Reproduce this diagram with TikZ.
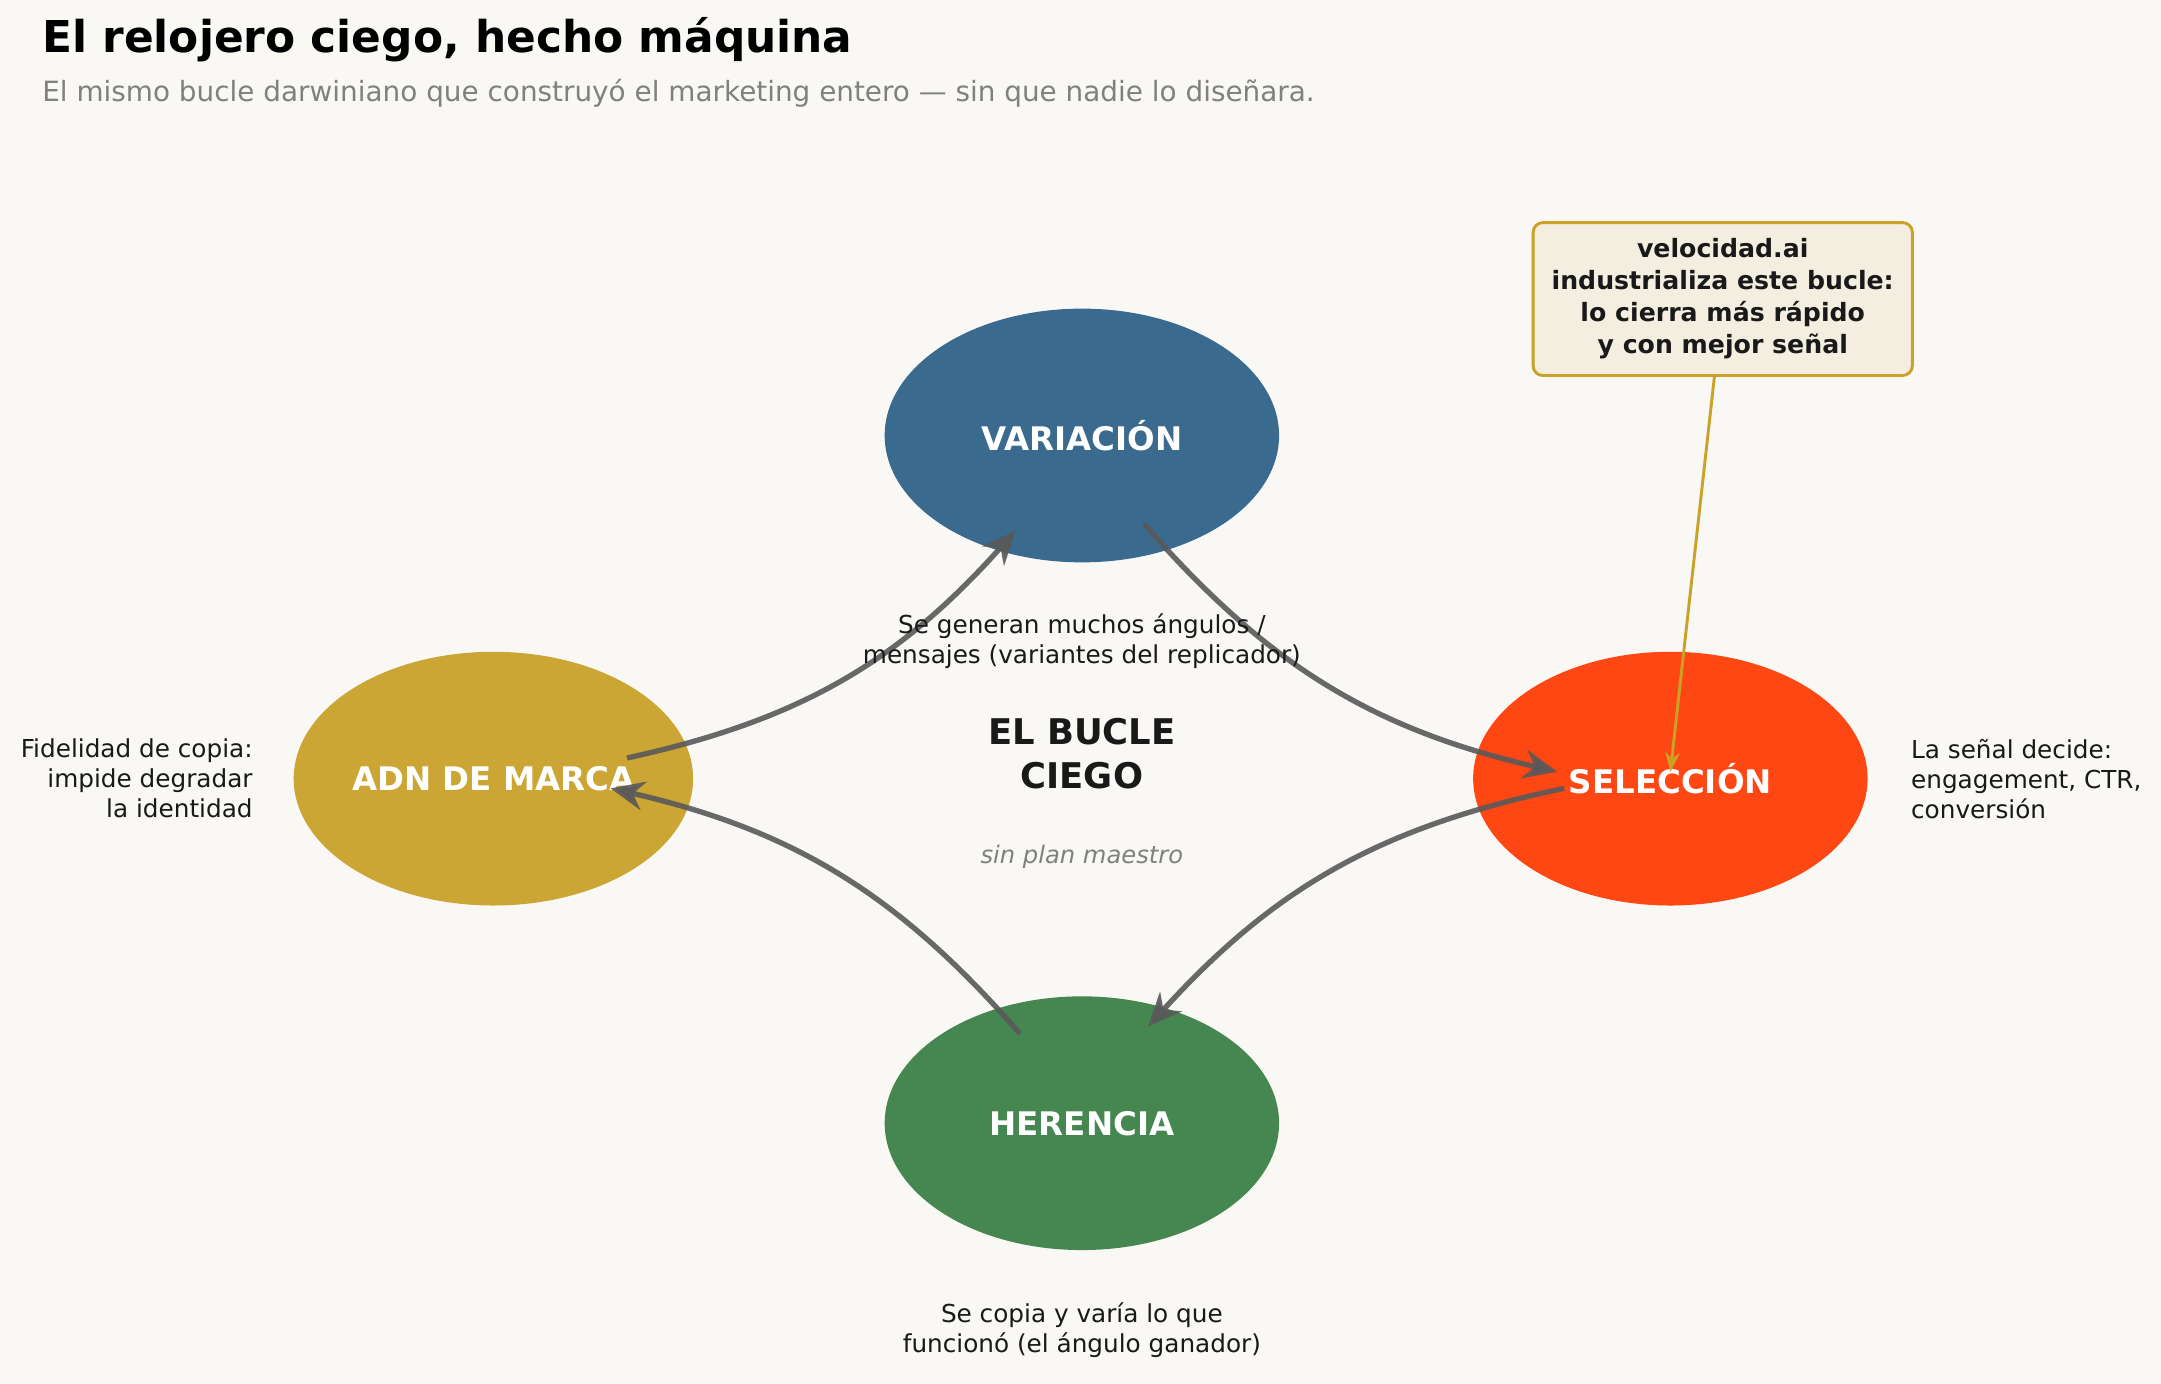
\documentclass[tikz,border=0pt]{standalone}
\usepackage{fontspec}
\setmainfont{DejaVu Sans}
\usetikzlibrary{shapes.geometric,arrows.meta}
\definecolor{bg}{HTML}{F9F8F5}
\definecolor{cblue}{HTML}{3A6A8E}
\definecolor{cgold}{HTML}{CCA634}
\definecolor{cred}{HTML}{FF4713}
\definecolor{cgreen}{HTML}{468650}
\definecolor{callfill}{HTML}{F3EEDF}
\definecolor{callline}{HTML}{C9A227}
\begin{document}
\begin{tikzpicture}[x=0.01cm,y=-0.01cm,
  ell/.style={ellipse,minimum width=2.86cm,minimum height=1.84cm,inner sep=0pt,text=white,font=\fontsize{6.7}{8}\selectfont\bfseries},
  lab/.style={font=\fontsize{5.1}{6.2}\selectfont,text=black!90,align=center},
  arr/.style={line width=1.1pt,draw=black!65,opacity=0.9,-{Stealth[length=7pt,width=6pt]}}]
\fill[bg] (0,0) rectangle (1568,1004);
\useasboundingbox (0,0) rectangle (1568,1004);
\node[anchor=west,inner sep=0pt,font=\fontsize{9.05}{10}\selectfont\bfseries] (t) at (30,29) {El relojero ciego, hecho máquina};
\node[anchor=west,inner sep=0pt,font=\fontsize{5.75}{7}\selectfont,text=black!50] (st) at (30,68) {El mismo bucle darwiniano que construyó el marketing entero — sin que nadie lo diseñara.};
\node[ell,fill=cblue] (var) at (785,316) {VARIACIÓN};
\node[ell,fill=cgold] (adn) at (358,565) {ADN DE MARCA};
\node[ell,fill=cred] (sel) at (1212,565) {SELECCIÓN};
\node[ell,fill=cgreen] (her) at (785,815) {HERENCIA};
\coordinate (a1) at (455,550); \coordinate (a2) at (737,385);
\coordinate (b1) at (830,380); \coordinate (b2) at (1130,560);
\coordinate (c1) at (1135,572); \coordinate (c2) at (833,745);
\coordinate (d1) at (740,750); \coordinate (d2) at (443,572);
\draw[arr] (a1) to[bend right=18] (a2);
\draw[arr] (b1) to[bend right=18] (b2);
\draw[arr] (c1) to[bend right=18] (c2);
\draw[arr] (d1) to[bend right=18] (d2);
\node[lab] (lv) at (785,465) {Se generan muchos ángulos /\\mensajes (variantes del replicador)};
\node[lab] (lh) at (785,965) {Se copia y varía lo que\\funcionó (el ángulo ganador)};
\node[lab,anchor=east,align=right,inner sep=0pt] (la) at (184,565) {Fidelidad de copia:\\impide degradar\\la identidad};
\node[lab,anchor=west,align=left,inner sep=0pt] (ls) at (1386,565) {La señal decide:\\engagement, CTR,\\conversión};
\node[font=\fontsize{7.3}{9}\selectfont\bfseries,align=center,text=black!90] (c) at (785,547) {EL BUCLE\\CIEGO};
\node[font=\fontsize{5}{6}\selectfont\itshape,text=black!50] (sp) at (785,622) {sin plan maestro};
\node[draw=callline,line width=0.6pt,fill=callfill,rounded corners=2pt,minimum width=2.75cm,minimum height=1.1cm,align=center,font=\fontsize{5.2}{6.6}\selectfont\bfseries,text=black!90] (call) at (1250,217) {velocidad.ai\\industrializa este bucle:\\lo cierra más rápido\\y con mejor señal};
\coordinate (ct) at (1212,560);
\draw[callline,line width=0.6pt,-{Stealth[length=4pt,width=3pt]}] (1244,273) -- (ct);
\end{tikzpicture}
\end{document}
